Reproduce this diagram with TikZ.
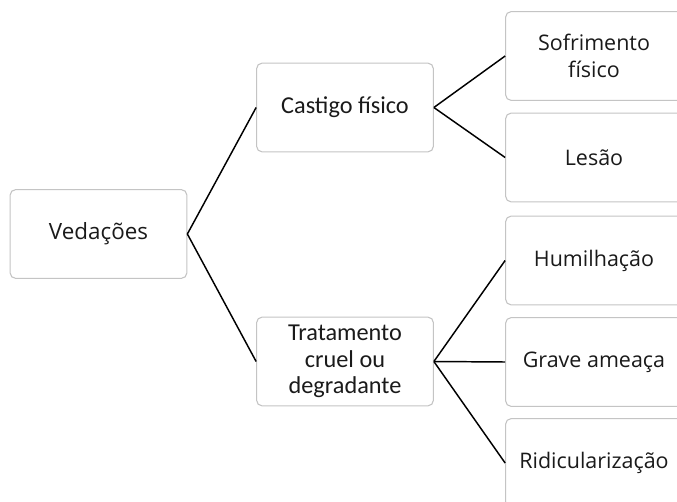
\documentclass[tikz,border=0pt]{standalone}
\usepackage{fontspec}
\setmainfont{Open Sans}
\newfontfamily\candfont{Carlito}
\definecolor{boxgray}{HTML}{C4C4C4}
\definecolor{txt}{HTML}{1A1A1A}
\begin{document}
\begin{tikzpicture}[x=0.75pt,y=-0.75pt,
  box/.style={draw=boxgray,line width=0.8pt,rounded corners=4pt,fill=white,
    minimum width=132.5pt,minimum height=66.5pt,inner sep=2pt,align=center,
    text=txt,font=\fontsize{16.1}{19.8}\selectfont},
  box1/.style={box,font=\fontsize{16.8}{20}\selectfont},
  box2/.style={box,font=\candfont\fontsize{18.2}{19.9}\selectfont},
  link/.style={draw=black,line width=1.1pt}]
\clip (0,0) rectangle (677,502);
\fill[white] (0,0) rectangle (677,502);
\node[box1] (ved) at (98.5,234) {Vedações};
\node[box2] (cas) at (345,107.5) {Castigo físico};
\node[box2] (tra) at (345,361.5) {Tratamento\\cruel ou\\degradante};
\node[box] (sof) at (594,56) {Sofrimento\\físico};
\node[box] (les) at (594,157.5) {Lesão};
\node[box] (hum) at (594,260.5) {Humilhação};
\node[box] (gra) at (594,362) {Grave ameaça};
\node[box] (rid) at (594,463) {Ridicularização};
\draw[link] (ved.east) -- (cas.west);
\draw[link] (ved.east) -- (tra.west);
\draw[link] (cas.east) -- (sof.west);
\draw[link] (cas.east) -- (les.west);
\draw[link] (tra.east) -- (hum.west);
\draw[link] (tra.east) -- (gra.west);
\draw[link] (tra.east) -- (rid.west);
\end{tikzpicture}
\end{document}
